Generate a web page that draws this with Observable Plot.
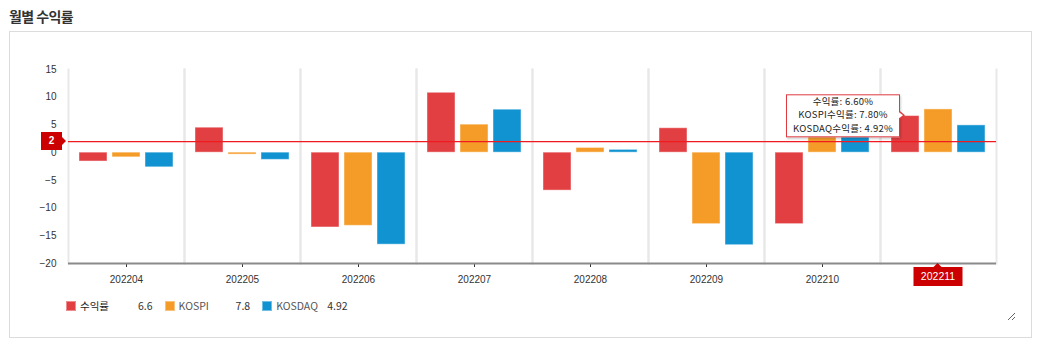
<!DOCTYPE html>
<html>
<head>
<meta charset="utf-8">
<script src="https://cdn.jsdelivr.net/npm/d3@7"></script>
<script src="https://cdn.jsdelivr.net/npm/@observablehq/plot@0.6"></script>
<style>
  html, body { margin: 0; padding: 0; background: #fff; }
  body { font-family: "Noto Sans CJK KR", "Noto Sans", sans-serif; color: #333; width: 1049px; height: 353px; position: relative; overflow: hidden; }
  #title { position: absolute; left: 9px; top: 6px; font-size: 14px; font-weight: 700; color: #333; line-height: 20px; letter-spacing: -0.6px; }
  #box { position: absolute; left: 9px; top: 31px; width: 1023px; height: 307px; border: 1px solid #dcdcdc; box-sizing: border-box; }
  #inner { position: absolute; left: 0; top: 0; width: 1006px; height: 289px; resize: both; overflow: hidden; }
  #chart { position: absolute; left: 0; top: 0; }
  #chart svg { display: block; overflow: visible; }
  .tag { position: absolute; background: #cc0000; color: #fff; font-family: "Liberation Sans", Arial, sans-serif; font-size: 10.5px; text-align: center; box-sizing: border-box; }
  .tag.y { width: 21px; height: 18px; line-height: 11px; padding-top: 2.5px; font-size: 10px; font-weight: 700; transform: translateX(-100%); }
  .tag.y::after { content: ""; position: absolute; right: -4px; top: 5px; border-top: 4px solid transparent; border-bottom: 4px solid transparent; border-left: 4px solid #cc0000; }
  .tag.x { width: 49px; height: 19px; line-height: 19px; transform: translateX(-50%); }
  .tag.x::after { content: ""; position: absolute; left: 20px; top: -4px; border-left: 4px solid transparent; border-right: 4px solid transparent; border-bottom: 4px solid #cc0000; }
  #tip { position: absolute; background: #fff; border: 1.5px solid #de3a40; padding: 0 6px; font-size: 9.5px; line-height: 13.8px; letter-spacing: 0.25px; text-align: center; color: #222; transform: translate(-100%, -50%); box-shadow: 1px 2px 2px rgba(0,0,0,0.18); white-space: nowrap; }
  #tip::after { content: ""; position: absolute; right: -6px; top: 50%; margin-top: -5px; border-top: 5px solid transparent; border-bottom: 5px solid transparent; border-left: 6px solid #de3a40; }
  #tip::before { content: ""; position: absolute; right: -4px; top: 50%; margin-top: -3.5px; border-top: 3.5px solid transparent; border-bottom: 3.5px solid transparent; border-left: 4px solid #fff; z-index: 1; }
  #legend { position: absolute; left: 56px; top: 266px; font-size: 10.5px; display: flex; align-items: center; white-space: nowrap; }
  .li { display: flex; align-items: center; margin-right: 12px; }
  .sw { width: 10px; height: 10px; margin-right: 4px; box-sizing: border-box; border: 1px solid rgba(255,255,255,0.4); }
  .lab { width: 57px; color: #555; }
  .li:first-child .lab { color: #222; width: 58px; }
  .li:nth-child(3) .lab { width: 51px; }
  .val { color: #333; }
</style>
</head>
<body>
<div id="title">월별 수익률</div>
<div id="box"><div id="inner"><div id="chart"></div><div id="legend"></div></div></div>
<script>
// ---- data ----
const months = ["202204", "202205", "202206", "202207", "202208", "202209", "202210", "202211"];
const seriesNames = ["수익률", "KOSPI", "KOSDAQ"];
const tipNames = ["수익률", "KOSPI수익률", "KOSDAQ수익률"];
const returnsVals = [-1.6, 4.5, -13.5, 10.8, -6.85, 4.4, -12.9, 6.6];
const kospiVals = [-0.85, -0.35, -13.2, 5.05, 0.85, -12.9, 6.4, 7.8];
const kosdaqVals = [-2.65, -1.3, -16.6, 7.75, 0.5, -16.7, 3.4, 4.92];
const yTicks = [15, 10, 5, 0, -5, -10, -15, -20];
const refValue = 2;
const highlightMonth = "202211";
const colors = ["#e23f42", "#f59c28", "#1193d1"];

// table built from the arrays
const seriesVals = [returnsVals, kospiVals, kosdaqVals];
const rows = [];
months.forEach((m, i) => seriesNames.forEach((s, j) => rows.push({month: m, series: s, value: seriesVals[j][i]})));

const plot = Plot.plot({
  width: 1006,
  height: 260,
  marginLeft: 58,
  marginRight: 20,
  marginTop: 37,
  marginBottom: 29,
  style: {fontFamily: "'Liberation Sans', Arial, sans-serif", fontSize: "10px", color: "#333", background: "transparent"},
  fx: {domain: months, padding: 0, label: null, axis: "bottom", tickSize: 4, tickPadding: 8,
       tickFormat: d => d === highlightMonth ? "" : d},
  x: {domain: seriesNames, axis: null, paddingInner: 0.15, paddingOuter: 0.33},
  y: {domain: [-20, 15], ticks: yTicks, tickSize: 0, tickPadding: 12, label: null},
  color: {domain: seriesNames, range: colors},
  marks: [
    Plot.frame({anchor: "left", stroke: "#e8e8e8", strokeWidth: 2}),
    Plot.frame({anchor: "right", stroke: "#e8e8e8", strokeWidth: 2}),
    Plot.ruleY([-20], {stroke: "#8a8a8a", strokeWidth: 2}),
    Plot.barY(rows, {fx: "month", x: "series", y: "value", fill: "series", stroke: "#fff", strokeOpacity: 0.45, strokeWidth: 1}),
    Plot.ruleY([refValue], {stroke: "#f01a20", strokeWidth: 1.3})
  ]
});
document.getElementById("chart").appendChild(plot);

// annotations positioned through the plot's scales
const inner = document.getElementById("inner");
const fxS = plot.scale("fx"), xS = plot.scale("x"), yS = plot.scale("y");

const yTag = document.createElement("div");
yTag.className = "tag y";
yTag.textContent = String(refValue);
yTag.style.left = (58 - 6) + "px";
yTag.style.top = (yS.apply(refValue) - 9) + "px";
inner.appendChild(yTag);

const hi = months.indexOf(highlightMonth);
const fxLeft = fxS.apply(highlightMonth);
const xTag = document.createElement("div");
xTag.className = "tag x";
xTag.textContent = highlightMonth;
xTag.style.left = (fxLeft + fxS.bandwidth / 2) + "px";
xTag.style.top = (yS.apply(-20) + 4) + "px";
inner.appendChild(xTag);

const tip = document.createElement("div");
tip.id = "tip";
tip.innerHTML = tipNames.map((n, j) => `${n}: ${seriesVals[j][hi].toFixed(2)}%`).join("<br>");
const barCenter = fxLeft + (xS.apply(seriesNames[0]) - xS.range[0]) + xS.bandwidth / 2;
tip.style.left = (barCenter - 5) + "px";
tip.style.top = yS.apply(seriesVals[0][hi]) + "px";
inner.appendChild(tip);

// legend
const legend = document.getElementById("legend");
seriesNames.forEach((s, j) => {
  const li = document.createElement("div");
  li.className = "li";
  li.innerHTML = `<div class="sw" style="background:${colors[j]}"></div><span class="lab">${s}</span><span class="val">${seriesVals[j][seriesVals[j].length - 1]}</span>`;
  legend.appendChild(li);
});
</script>
</body>
</html>
